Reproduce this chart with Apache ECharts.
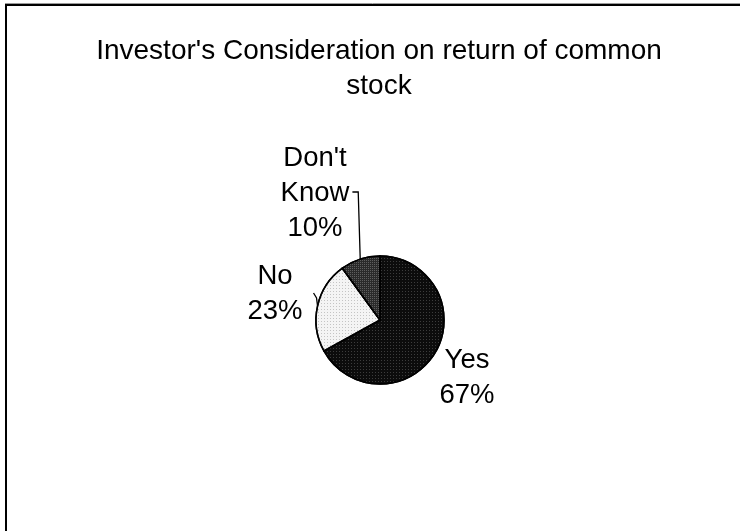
<!DOCTYPE html>
<html>
<head>
<meta charset="utf-8">
<title>Investor's Consideration on return of common stock</title>
<script src="https://cdn.jsdelivr.net/npm/echarts@6/dist/echarts.min.js"></script>
<style>
  html, body { margin: 0; padding: 0; background: #fff; }
  #chart { width: 740px; height: 531px; }
</style>
</head>
<body>
<div id="chart"></div>
<script>
// Survey answers and their shares (percent)
const categories = ['Yes', 'No', "Don't Know"];
const shares = [67, 23, 10];

// Slice fills: base colour plus a fine dot texture
const sliceFills = [
  { color: '#0c0c0c', dots: '#3c3c3c', step: [1, 2] },
  { color: '#f4f4f4', dots: '#c4c4c4', step: [1, 2] },
  { color: '#2a2a2a', dots: '#5e5e5e', step: [1, 1] }
];

// Where each label block is centred
const labelCentres = [[467, 378], [275, 294], [315, 193]];

const FONT = '"Liberation Sans", Arial, sans-serif';

const chart = echarts.init(document.getElementById('chart'), null, { renderer: 'canvas' });

const seriesData = categories.map((name, i) => ({
  name: name,
  value: shares[i],
  itemStyle: {
    color: sliceFills[i].color,
    decal: {
      symbol: 'rect',
      symbolSize: 1,
      color: sliceFills[i].dots,
      dashArrayX: sliceFills[i].step,
      dashArrayY: sliceFills[i].step,
      rotation: 0
    }
  },
  labelLine: { show: i !== 0 }
}));

chart.setOption({
  backgroundColor: '#ffffff',
  animation: false,
  title: {
    text: "Investor's Consideration on return of common\nstock",
    left: 379,
    top: 34,
    padding: 0,
    textAlign: 'center',
    textStyle: {
      fontFamily: FONT,
      fontSize: 28,
      fontWeight: 'normal',
      lineHeight: 35,
      color: '#000'
    }
  },
  graphic: [
    { type: 'line', shape: { x1: 5, y1: 5, x2: 740, y2: 5 }, style: { stroke: '#000', lineWidth: 2 } },
    { type: 'line', shape: { x1: 6, y1: 4, x2: 6, y2: 531 }, style: { stroke: '#000', lineWidth: 2 } },
    { type: 'line', shape: { x1: 5, y1: 3.5, x2: 740, y2: 3.5 }, style: { stroke: '#9a9a9a', lineWidth: 1 } }
  ],
  series: [{
    type: 'pie',
    center: [380, 320],
    radius: 64,
    startAngle: 90,
    clockwise: true,
    avoidLabelOverlap: false,
    data: seriesData,
    itemStyle: { borderColor: '#000', borderWidth: 1.5 },
    label: {
      show: true,
      position: 'outside',
      fontFamily: FONT,
      fontSize: 27.5,
      lineHeight: 35,
      color: '#000',
      align: 'center',
      formatter: p => p.name.replace(' ', '\n') + '\n' + p.value + '%'
    },
    labelLine: {
      show: true,
      length: 8,
      length2: 8,
      lineStyle: { color: '#000', width: 1.3 }
    },
    labelLayout: function (params) {
      const i = params.dataIndex;
      const c = labelCentres[i];
      const out = { x: c[0], y: c[1], align: 'center', verticalAlign: 'middle' };
      const pts = params.labelLinePoints;
      if (pts && pts.length) {
        const p0 = pts[0];
        if (i === 2) {
          // vertical drop from the slice edge, then a short tick toward the text
          const tickStart = c[0] + params.labelRect.width / 2 + 3;
          out.labelLinePoints = [[p0[0], p0[1]], [p0[0] - 2, c[1] - 1], [tickStart, c[1] - 1]];
        } else if (i === 1) {
          out.labelLinePoints = [[p0[0], p0[1]], [p0[0] - 1, p0[1] - 8], [p0[0] - 4, p0[1] - 13]];
        }
      }
      return out;
    }
  }]
});
</script>
</body>
</html>
